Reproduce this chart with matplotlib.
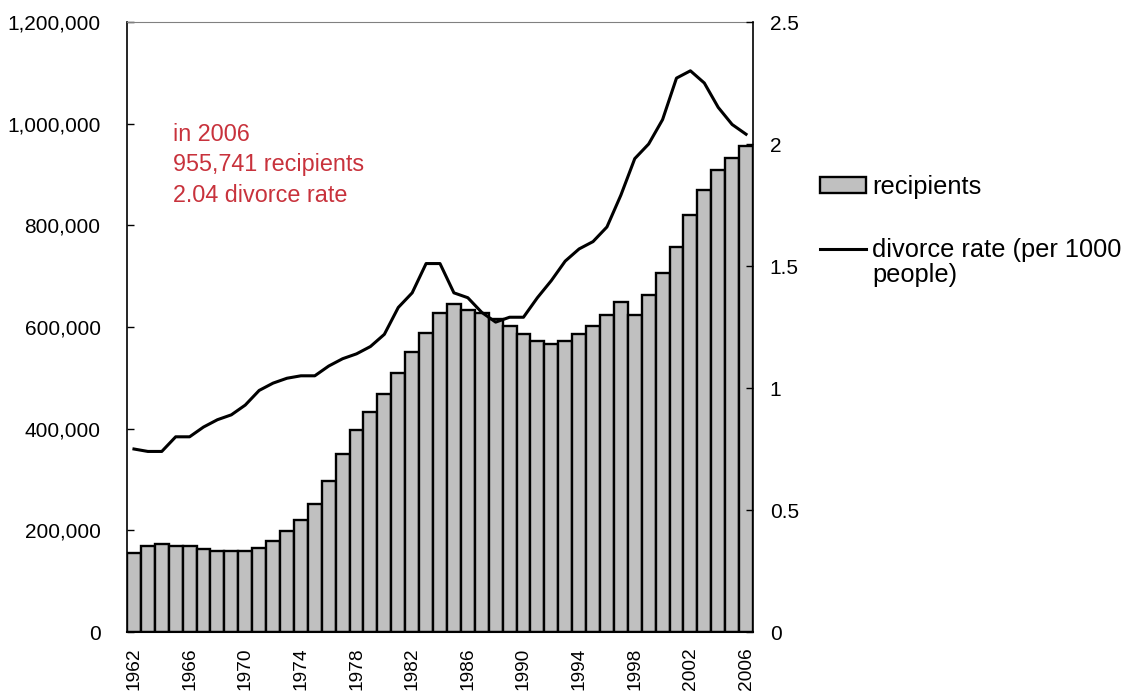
import matplotlib
matplotlib.use("Agg")
import matplotlib.pyplot as plt
import numpy as np
from matplotlib.ticker import FuncFormatter

# ---------------------------------------------------------------------------
# Data
# ---------------------------------------------------------------------------
YEARS = list(range(1962, 2007))

RECIPIENTS = [
    155000, 170000, 173000, 170000, 170000, 163000, 159000, 159000, 159000,
    166000, 179000, 198000, 221000, 252000, 297000, 351000, 398000, 433000,
    468000, 510000, 551000, 589000, 627000, 646000, 633000, 627000, 616000,
    602000, 586000, 573000, 566000, 573000, 586000, 601000, 623000, 649000,
    623000, 662000, 706000, 757000, 821000, 869000, 909000, 932000, 955741,
]

DIVORCE_RATE = [
    0.75, 0.74, 0.74, 0.80, 0.80, 0.84, 0.87, 0.89, 0.93, 0.99, 1.02, 1.04,
    1.05, 1.05, 1.09, 1.12, 1.14, 1.17, 1.22, 1.33, 1.39, 1.51, 1.51, 1.39,
    1.37, 1.31, 1.27, 1.29, 1.29, 1.37, 1.44, 1.52, 1.57, 1.60, 1.66, 1.79,
    1.94, 2.00, 2.10, 2.27, 2.30, 2.25, 2.15, 2.08, 2.04,
]

LEFT_TICKS = [0, 200000, 400000, 600000, 800000, 1000000, 1200000]
RIGHT_TICKS = [0, 0.5, 1, 1.5, 2, 2.5]
RIGHT_LABELS = ["0", "0.5", "1", "1.5", "2", "2.5"]

NOTE = "in 2006\n955,741 recipients\n2.04 divorce rate"
LEGEND_LABELS = ["recipients", "divorce rate (per 1000"]
LEGEND_WRAP = "people)"

# ---------------------------------------------------------------------------
# Style
# ---------------------------------------------------------------------------
BAR_GRAY = "#C0C0C0"
NOTE_RED = "#C8323C"

plt.rcParams.update({
    "font.family": ["Liberation Sans", "DejaVu Sans"],
    "figure.facecolor": "white",
    "axes.facecolor": "white",
})

fig = plt.figure(figsize=(11.27, 6.93), dpi=100)
ax = fig.add_axes([127 / 1127, 1 - 632 / 693, 626 / 1127, 610 / 693])

x = np.arange(len(YEARS))
bars = ax.bar(x, RECIPIENTS, width=1.0, color=BAR_GRAY, edgecolor="black",
              linewidth=1.7, zorder=2)

ax.set_xlim(-0.5, len(YEARS) - 0.5)
ax.set_ylim(0, 1200000)
ax.set_yticks(LEFT_TICKS)
ax.yaxis.set_major_formatter(FuncFormatter(lambda v, _: f"{int(v):,}"))
ax.tick_params(axis="y", direction="in", length=5, width=1, pad=19,
               labelsize=15)

tick_idx = x[::4]
ax.set_xticks(tick_idx)
ax.set_xticklabels([str(YEARS[i]) for i in tick_idx], rotation=90,
                   fontsize=13.8)
ax.tick_params(axis="x", length=0, pad=11)

ax.spines["top"].set_color("#808080")
ax.spines["top"].set_linewidth(0.8)
ax.spines["left"].set_linewidth(1.2)
ax.spines["bottom"].set_linewidth(1.5)
ax.spines["right"].set_visible(False)

# divorce rate on the secondary axis
ax2 = ax.twinx()
line, = ax2.plot(x, DIVORCE_RATE, color="black", linewidth=2.2, zorder=3)
ax2.set_ylim(0, 2.5)
ax2.set_yticks(RIGHT_TICKS)
ax2.set_yticklabels(RIGHT_LABELS)
ax2.tick_params(axis="y", direction="in", length=5, width=1, pad=12,
                labelsize=15)
for side in ["top", "left", "bottom"]:
    ax2.spines[side].set_visible(False)
ax2.spines["right"].set_linewidth(1.2)

ax.text(0.0735, 0.835, NOTE, transform=ax.transAxes, ha="left", va="top",
        color=NOTE_RED, fontsize=16.8, linespacing=1.42)

leg = fig.legend([bars, line], LEGEND_LABELS, loc="upper left",
                 bbox_to_anchor=(820 / 1127, 1 - 175 / 693),
                 frameon=False, fontsize=18.3, handlelength=1.8,
                 handleheight=0.6, handletextpad=0.25, labelspacing=1.55,
                 borderpad=0, borderaxespad=0)

# second line of the divorce-rate label, tucked under the first one
fig.canvas.draw()
bb = leg.get_texts()[1].get_window_extent()
fig.text(bb.x0 / fig.bbox.width, (bb.y0 - 1) / fig.bbox.height, LEGEND_WRAP,
         ha="left", va="top", fontsize=18.3)

fig.savefig("out.png", dpi=100)
